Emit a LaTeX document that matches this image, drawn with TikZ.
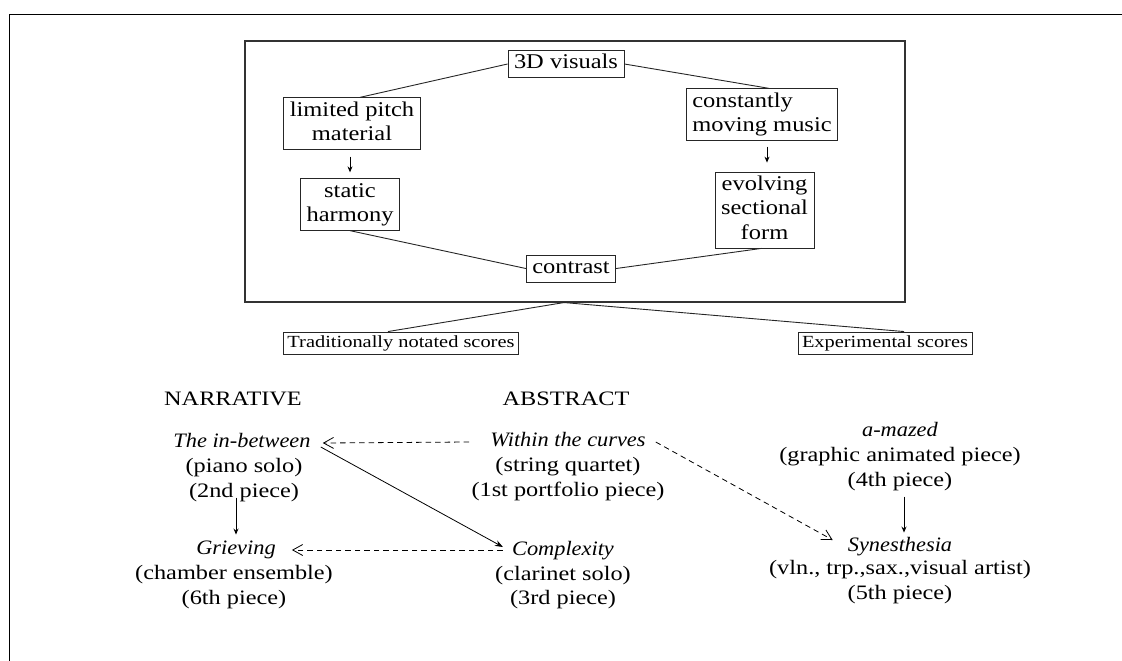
\documentclass[tikz,border=0pt]{standalone}
\usepackage{fontspec}
\setmainfont{Liberation Serif}
\usetikzlibrary{arrows.meta}
\newfontfamily\boxfont{Liberation Serif}[FakeStretch=1.165]
\newfontfamily\scorefont{Liberation Serif}[FakeStretch=1.2]
\newfontfamily\piecefont{Liberation Serif}[FakeStretch=1.185, ItalicFeatures={FakeStretch=1.09}]
\tikzset{
  box/.style={draw=black!85, line width=0.9pt, inner xsep=6pt, inner ysep=1.2pt, align=center, font=\boxfont\fontsize{21}{24.5}\selectfont},
  scorebox/.style={draw=black!85, line width=0.9pt, inner xsep=4pt, inner ysep=1pt, font=\scorefont\fontsize{17}{20}\selectfont},
  piece/.style={inner sep=0pt, align=center, font=\piecefont\fontsize{20.5}{24.5}\selectfont},
  head/.style={inner sep=0pt, font=\piecefont\fontsize{20.5}{24.5}\selectfont},
  link/.style={line width=0.9pt, draw=black!85},
  fa/.style={line width=0.9pt, -{Stealth[length=6pt,width=5pt]}},
  da/.style={line width=0.8pt, dash pattern=on 5.5pt off 4pt, -{Straight Barb[length=10pt,width=11pt,line width=0.8pt]}},
}
\begin{document}
\begin{tikzpicture}[x=1pt,y=-1pt]
\useasboundingbox (0,0) rectangle (1122,661);
% outer frame (top and left edges)
\draw[line width=1pt] (1122,15) -- (9,15) -- (9,661);
% big box
\node[draw=black!80, line width=1.1pt, minimum width=660pt, minimum height=261pt, inner sep=0pt] (big) at (575,171.5) {};
\node[box] (vis) at (566,64) {\strut 3D visuals};
\node[box] (lim) at (352,123.5) {\strut limited pitch\\\strut material};
\node[box, align=left] (con) at (762,114.5) {\strut constantly\\\strut moving music};
\node[box] (sta) at (350,204.5) {\strut static\\\strut harmony};
\node[box] (evo) at (764.5,210) {\strut evolving\\\strut sectional\\\strut form};
\node[box] (ctr) at (571,268.5) {\strut contrast};
\draw[link] (vis.west) -- ([xshift=8pt]lim.north);
\draw[link] (vis.east) -- ([xshift=7pt]con.north);
\draw[link] (sta.south) -- (ctr.west);
\draw[link] ([xshift=-3pt]evo.south) -- (ctr.east);
\draw[fa] ([shift={(-2,7)}]lim.south) -- ([shift={(0,-6)}]sta.north);
\draw[fa] ([shift={(5,6)}]con.south) -- ([shift={(2.5,-9)}]evo.north);
% scores
\node[scorebox] (trad) at (401,343) {\strut Traditionally notated scores};
\node[scorebox] (exp) at (885,343) {\strut Experimental scores};
\coordinate (bb) at ([xshift=-11pt]big.south);
\draw[link] (bb) -- ([xshift=-13pt]trad.north);
\draw[link] (bb) -- ([xshift=19pt]exp.north);
% headings
\node[head] (nar) at (233,399) {NARRATIVE};
\node[head] (abs) at (566,399) {ABSTRACT};
% pieces
\node[piece] (inbT) at (242,443) {\strut\textit{The in-between}};
\node[piece] (inbS) at (244,480) {\strut(piano solo)\\\strut(2nd piece)};
\node[piece] (witT) at (568,442) {\strut\textit{Within the curves}};
\node[piece] (witS) at (568,479) {\strut(string quartet)\\\strut(1st portfolio piece)};
\node[piece] (amzT) at (900,432) {\strut\textit{a-mazed}};
\node[piece] (amzS) at (900,469) {\strut(graphic animated piece)\\\strut(4th piece)};
\node[piece] (griT) at (236,550) {\strut\textit{Grieving}};
\node[piece] (griS) at (234,587) {\strut(chamber ensemble)\\\strut(6th piece)};
\node[piece] (comT) at (563,551) {\strut\textit{Complexity}};
\node[piece] (comS) at (563,587.5) {\strut(clarinet solo)\\\strut(3rd piece)};
\node[piece] (synT) at (900,547) {\strut\textit{Synesthesia}};
\node[piece] (synS) at (900,582) {\strut(vln., trp.,sax.,visual artist)\\\strut(5th piece)};
% connectors
\draw[da] ([shift={(-21,0)}]witT.west) -- ([shift={(12,0)}]inbT.east);
\draw[da] ([shift={(-9,-1)}]comT.west) -- ([shift={(16,0)}]griT.east);
\draw[da] ([shift={(10,0)}]witT.east) -- ([shift={(-15,-7)}]synT.west);
\draw[line width=0.8pt, -{Stealth[length=8pt,width=6pt]}] ([shift={(10,4)}]inbT.east) -- ([shift={(-9,-4)}]comT.west);
\draw[fa] ([shift={(-8,-7)}]inbS.south) -- ([shift={(0,-3)}]griT.north);
\draw[fa] ([shift={(4,3)}]amzS.south) -- ([shift={(4,-2)}]synT.north);
\end{tikzpicture}
\end{document}
